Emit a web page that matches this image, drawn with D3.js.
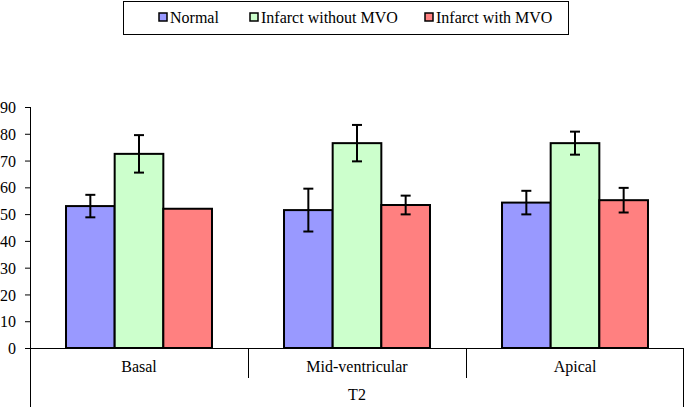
<!DOCTYPE html>
<html><head><meta charset="utf-8">
<script src="https://cdn.jsdelivr.net/npm/d3@7"></script>
<style>body{margin:0;background:#fff}svg{display:block}</style>
</head><body><svg id="c" width="685" height="407"></svg>
<script>
const categories = ["Basal","Mid-ventricular","Apical"];
const seriesNames = ["Normal","Infarct without MVO","Infarct with MVO"];
const normalVals = [53, 51.5, 54.3];
const noMvoVals = [72.5, 76.5, 76.5];
const mvoVals = [52, 53.4, 55.2];
const normalErr = [4.2, 8, 4.4];
const noMvoErr = [7, 6.8, 4.3];
const mvoErr = [0, 3.5, 4.6];
const yTicks = [0,10,20,30,40,50,60,70,80,90];
const groupLabel = "T2";
const colors = ["#9999FF","#CCFFCC","#FF8080"];

const values = [normalVals, noMvoVals, mvoVals];
const errs = [normalErr, noMvoErr, mvoErr];
const FONT = "'Liberation Serif', 'Times New Roman', 'DejaVu Serif', serif";
const FS = 16;

const svg = d3.select("#c");
const pLeft = 30, pRight = 684, pTop = 107, pBottom = 348;
const y = d3.scaleLinear().domain([0,90]).range([pBottom, pTop]);
const x0 = d3.scaleBand().domain(categories).range([pLeft, pRight]);
const x1 = d3.scaleBand().domain(seriesNames).range([0, x0.bandwidth()]).paddingInner(0).paddingOuter(0.74);

// y axis
const yAxis = d3.axisLeft(y).tickValues(yTicks).tickSize(5).tickPadding(9).tickSizeOuter(0);
const ga = svg.append("g").attr("transform",`translate(${pLeft},0)`).call(yAxis);
ga.attr("font-family",FONT).attr("font-size",FS);
ga.select(".domain").remove();
ga.selectAll("line").attr("stroke","#000").attr("stroke-width",1);
ga.selectAll("text").attr("fill","#000").attr("dy","0.35em");
svg.append("line").attr("x1",pLeft+0.5).attr("x2",pLeft+0.5).attr("y1",pTop).attr("y2",407).attr("stroke","#000");

// category frame
svg.append("line").attr("x1",pLeft).attr("x2",pRight).attr("y1",pBottom+0.5).attr("y2",pBottom+0.5).attr("stroke","#000");
svg.append("line").attr("x1",pRight-0.5).attr("x2",pRight-0.5).attr("y1",pBottom).attr("y2",407).attr("stroke","#000");
categories.slice(1).forEach(c=>{
  svg.append("line").attr("x1",x0(c)+0.5).attr("x2",x0(c)+0.5).attr("y1",pBottom).attr("y2",378).attr("stroke","#000");
});
categories.forEach(c=>{
  svg.append("text").attr("x",x0(c)+x0.bandwidth()/2).attr("y",372).attr("text-anchor","middle")
    .attr("font-family",FONT).attr("font-size",FS).text(c);
});
svg.append("text").attr("x",(pLeft+pRight)/2).attr("y",400).attr("text-anchor","middle")
  .attr("font-family",FONT).attr("font-size",FS).text(groupLabel);

// bars
seriesNames.forEach((s,si)=>{
  const g = svg.append("g");
  g.selectAll("rect").data(categories).join("rect")
    .attr("x",c=>x0(c)+x1(s)).attr("width",x1.bandwidth())
    .attr("y",(c,i)=>y(values[si][i])).attr("height",(c,i)=>y(0)-y(values[si][i]))
    .attr("fill",colors[si]).attr("stroke","#000").attr("stroke-width",2);
});
// error bars
seriesNames.forEach((s,si)=>{
  categories.forEach((c,i)=>{
    const e = errs[si][i]; if(!e) return;
    const cx = x0(c)+x1(s)+x1.bandwidth()/2, v = values[si][i];
    const g = svg.append("g").attr("stroke","#000").attr("stroke-width",2);
    g.append("line").attr("x1",cx).attr("x2",cx).attr("y1",y(v+e)).attr("y2",y(v-e));
    [v+e,v-e].forEach(t=>g.append("line").attr("x1",cx-5).attr("x2",cx+5).attr("y1",y(t)).attr("y2",y(t)));
  });
});

// legend
svg.append("rect").attr("x",123.5).attr("y",1.5).attr("width",445).attr("height",33).attr("fill","#fff").attr("stroke","#000").attr("stroke-width",1);
const legX = [159, 250, 425];
seriesNames.forEach((s,si)=>{
  svg.append("rect").attr("x",legX[si]).attr("y",13).attr("width",8).attr("height",8).attr("fill",colors[si]).attr("stroke","#000").attr("stroke-width",1.5);
  svg.append("text").attr("x",legX[si]+11).attr("y",23).attr("font-family",FONT).attr("font-size",FS).text(s);
});
</script></body></html>
